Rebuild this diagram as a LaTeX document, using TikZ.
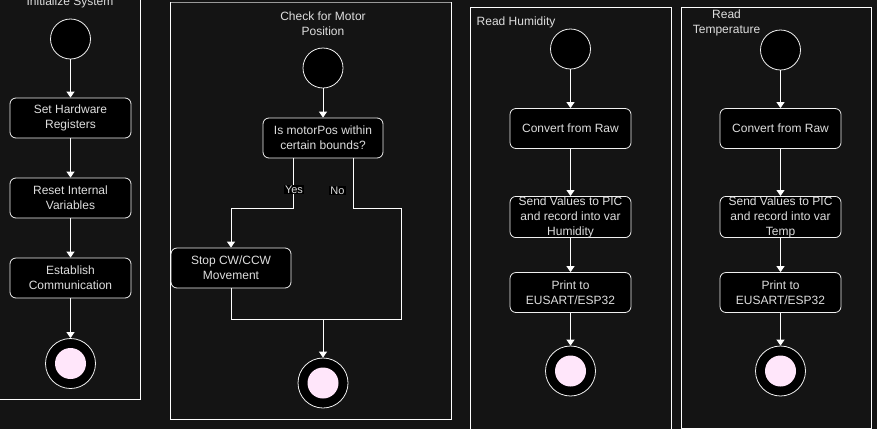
\documentclass[tikz,border=0pt]{standalone}
\usepackage{fontspec}
\setmainfont{Liberation Sans}
\usetikzlibrary{arrows.meta}
\definecolor{bg}{HTML}{141414}
\definecolor{endpink}{HTML}{FFE6FA}
\definecolor{txt}{HTML}{DEDEDE}
\definecolor{edge}{HTML}{F0F0F0}
\begin{document}
\begin{tikzpicture}[x=1pt,y=-1pt,
  txtfont/.style={font=\fontsize{12}{15}\selectfont, text=txt},
  act/.style={draw=edge, fill=black, rounded corners=6pt, minimum width=121pt, minimum height=40pt,
    align=center, inner sep=0pt, line width=0.8pt, txtfont},
  startnode/.style={circle, draw=edge, fill=black, minimum size=40pt, inner sep=0pt, line width=0.8pt},
  endring/.style={circle, draw=edge, fill=black, minimum size=50pt, inner sep=0pt, line width=0.8pt},
  enddot/.style={circle, fill=endpink, minimum size=31pt, inner sep=0pt},
  panel/.style={draw=white, line width=0.9pt},
  title/.style={align=center, inner sep=0pt, txtfont},
  conn/.style={draw=white, line width=1pt},
  flow/.style={conn, -{Triangle[width=8pt,length=6pt, fill=white]}},
  lbl/.style={fill=black, inner sep=1pt, font=\fontsize{11}{13}\selectfont, text=txt}
]
\useasboundingbox (0,0) rectangle (877,429);
\fill[bg] (0,0) rectangle (877,429);
\clip (0,0) rectangle (877,429);

% ---------- Panel 1: Initialize System ----------
\draw[panel] (-1,-10) rectangle (140.5,399);
\node[title] (t1) at (70,2) {Initialize System};
\node[startnode] (s1) at (70.5,39) {};
\node[act] (a1) at (70.5,118) {Set Hardware\\Registers};
\node[act] (a2) at (70.5,198) {Reset Internal\\Variables};
\node[act] (a3) at (70.5,278) {Establish\\Communication};
\node[endring] (e1) at (70.5,363.5) {};
\node[enddot] (d1) at (e1.center) {};
\draw[flow] (s1) -- (a1);
\draw[flow] (a1) -- (a2);
\draw[flow] (a2) -- (a3);
\draw[flow] (a3) -- (e1);

% ---------- Panel 2: Check for Motor Position ----------
\draw[panel] (170.5,2) rectangle (451,419);
\draw[draw=gray!80!white, line width=0.9pt] (170.5,2) -- (451,2);
\node[title] (t2) at (323,23.5) {Check for Motor\\Position};
\node[startnode] (s2) at (323,68) {};
\node[act, minimum width=120pt] (q) at (323,138) {Is motorPos within\\certain bounds?};
\node[act, minimum width=120pt] (stop) at (231,268) {Stop CW/CCW\\Movement};
\node[endring] (e2) at (323,383) {};
\node[enddot] (d2) at (e2.center) {};
\coordinate (nr) at (401,319);
\coordinate (m) at (323,319);
\draw[flow] (s2) -- (q);
\draw[flow] ([xshift=-30pt]q.south) -- ++(0,50) -| (stop.north);
\draw[conn] ([xshift=30pt]q.south) -- ++(0,50) -| (nr) -- (m);
\draw[conn] (stop.south) |- (m);
\draw[flow] (m) -- (e2);
\node[lbl] (yes) at (294,189.5) {Yes};
\node[lbl] (no) at (337.5,190.5) {No};

% ---------- Panel 3: Read Humidity ----------
\draw[panel] (470.5,7) rectangle (671,440);
\node[title, anchor=west] (t3) at (476.5,22) {Read Humidity};
\node[startnode] (s3) at (570.5,49) {};
\node[act] (h1) at (570.5,128.5) {Convert from Raw};
\node[act] (h2) at (570.5,217) {Send Values to PIC\\and record into var\\Humidity};
\node[act] (h3) at (570.5,292.5) {Print to\\EUSART/ESP32};
\node[endring] (e3) at (570.5,371) {};
\node[enddot] (d3) at (e3.center) {};
\draw[flow] (s3) -- (h1);
\draw[flow] (h1) -- (h2);
\draw[flow] (h2) -- (h3);
\draw[flow] (h3) -- (e3);

% ---------- Panel 4: Read Temperature ----------
\draw[panel] (681,7) rectangle (871,428);
\node[title] (t4) at (726.5,22.5) {Read\\Temperature};
\node[startnode] (s4) at (780.5,50) {};
\node[act] (p1) at (780.5,128.5) {Convert from Raw};
\node[act] (p2) at (780.5,217) {Send Values to PIC\\and record into var\\Temp};
\node[act] (p3) at (780.5,292.5) {Print to\\EUSART/ESP32};
\node[endring] (e4) at (780.5,371) {};
\node[enddot] (d4) at (e4.center) {};
\draw[flow] (s4) -- (p1);
\draw[flow] (p1) -- (p2);
\draw[flow] (p2) -- (p3);
\draw[flow] (p3) -- (e4);
\end{tikzpicture}
\end{document}
